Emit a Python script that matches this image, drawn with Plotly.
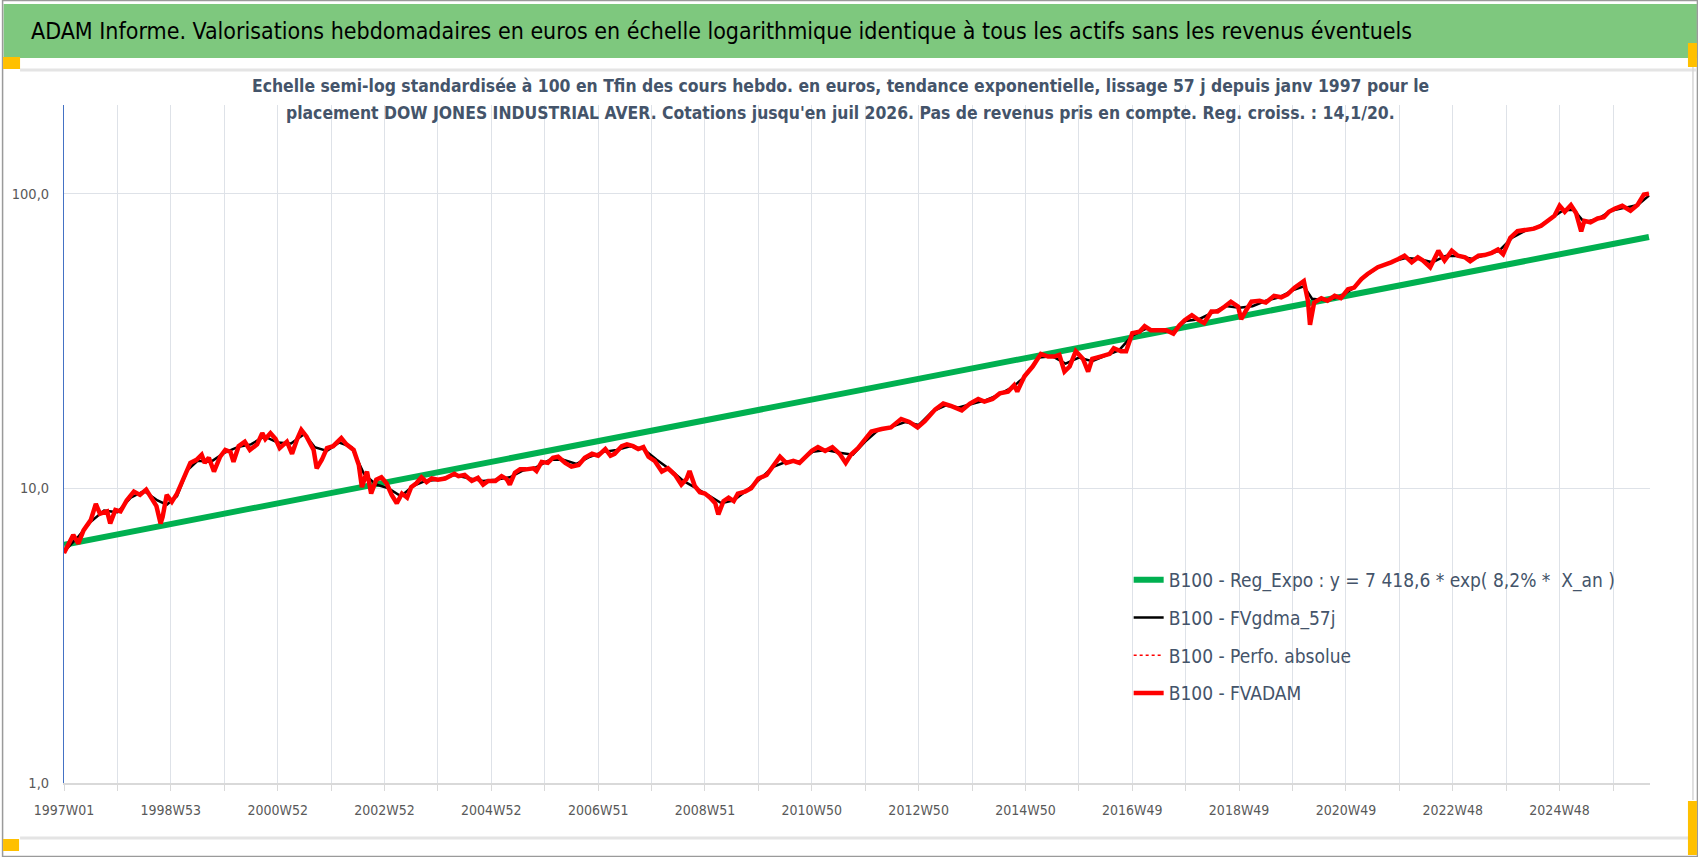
import plotly.graph_objects as go
import math

# ---------------- DATA ----------------
# x = week index counted from 1997W01 (week 0)
fvadam_weeks = [0, 9, 14, 19, 26, 31, 35, 42, 45, 50, 55, 61, 68, 74, 80, 86, 90, 94, 96, 100,
                105, 110, 116, 123, 129, 134, 137, 141, 146, 152, 157, 162, 165, 170, 176, 181, 188, 193, 196, 201,
                206, 210, 217, 222, 227, 231, 236, 243, 246, 251, 256, 262, 270, 275, 282, 287, 290, 295, 299, 304,
                309, 314, 319, 324, 329, 334, 338, 343, 348, 353, 358, 364, 371, 380, 384, 390, 397, 403, 408, 413,
                420, 426, 431, 434, 439, 444, 450, 457, 460, 465, 471, 476, 481, 488, 494, 501, 507, 514, 520, 527,
                532, 536, 543, 548, 554, 559, 564, 569, 575, 582, 588, 595, 601, 606, 609, 614, 619, 624, 629, 634,
                637, 642, 647, 652, 656, 663, 669, 676, 684, 690, 697, 703, 710, 716, 721, 728, 734, 741, 748, 755,
                761, 766, 773, 779, 786, 796, 805, 815, 823, 831, 838, 848, 856, 864, 874, 882, 890, 896, 904, 911,
                919, 925, 928, 935, 943, 951, 958, 964, 969, 974, 979, 985, 992, 997, 1001, 1009, 1018, 1022, 1029, 1034,
                1040, 1047, 1052, 1058, 1067, 1073, 1080, 1086, 1091, 1098, 1104, 1110, 1117, 1123, 1130, 1136, 1143, 1146, 1151, 1156,
                1164, 1170, 1178, 1185, 1191, 1198, 1207, 1211, 1213, 1217, 1224, 1230, 1237, 1243, 1250, 1256, 1263, 1269, 1279, 1286,
                1292, 1299, 1305, 1312, 1318, 1323, 1330, 1338, 1344, 1351, 1357, 1364, 1369, 1377, 1383, 1390, 1396, 1401, 1408, 1415,
                1423, 1431, 1438, 1444, 1451, 1456, 1461, 1467, 1472, 1477, 1480, 1486, 1493, 1499, 1504, 1510, 1517, 1525, 1532, 1538,
                1543]
fvadam_values = [6.03, 6.95, 6.5, 7.2, 7.8, 8.85, 8.2, 8.35, 7.6, 8.45, 8.35, 9.1, 9.75, 9.5, 9.9, 9.1, 8.7, 7.6, 8.0, 9.5,
                 9.0, 9.6, 10.7, 12.2, 12.5, 13.0, 12.2, 12.7, 11.4, 12.8, 13.5, 13.3, 12.3, 13.9, 14.4, 13.5, 14.1, 15.4, 14.7, 15.4,
                 14.7, 13.7, 14.4, 13.1, 14.7, 15.8, 15.0, 13.5, 11.7, 12.5, 13.7, 13.9, 14.8, 14.1, 13.5, 12.0, 10.1, 11.4, 9.6, 10.7,
                 10.9, 10.4, 9.5, 8.9, 9.6, 9.3, 10.1, 10.4, 10.9, 10.5, 10.8, 10.7, 10.8, 11.2, 11.0, 11.1, 10.6, 10.85, 10.3, 10.6,
                 10.6, 11.0, 10.75, 10.3, 11.3, 11.6, 11.6, 11.7, 11.45, 12.3, 12.2, 12.7, 12.8, 12.2, 11.85, 12.0, 12.7, 13.1, 12.9, 13.6,
                 12.9, 13.1, 13.9, 14.1, 13.9, 13.6, 13.8, 12.8, 12.4, 11.4, 11.7, 11.1, 10.3, 10.75, 11.45, 10.2, 9.7, 9.6, 9.3, 8.9,
                 8.15, 9.05, 9.3, 9.05, 9.6, 9.75, 10.0, 10.8, 11.1, 11.85, 12.8, 12.2, 12.4, 12.2, 12.7, 13.4, 13.8, 13.4, 13.8, 13.1,
                 12.2, 13.0, 13.7, 14.6, 15.6, 15.9, 16.1, 17.2, 16.8, 16.1, 16.9, 18.5, 19.4, 19.0, 18.4, 19.4, 20.1, 19.7, 20.1, 21.0,
                 21.3, 22.4, 21.3, 24.0, 25.9, 28.6, 28.0, 28.0, 28.4, 24.9, 25.9, 29.2, 27.5, 24.9, 27.5, 28.0, 28.6, 29.9, 29.2, 29.2,
                 33.6, 34.0, 35.5, 34.4, 34.3, 34.4, 33.5, 35.8, 37.2, 38.7, 37.4, 36.4, 39.8, 39.8, 41.4, 43.0, 41.4, 37.5, 40.3, 43.0,
                 43.3, 42.7, 45.0, 44.5, 45.5, 48.0, 50.5, 43.3, 35.9, 42.7, 44.2, 43.3, 45.0, 44.2, 47.4, 48.0, 51.3, 53.4, 56.3, 57.3,
                 58.5, 60.0, 61.6, 58.5, 60.8, 59.3, 56.3, 64.0, 59.3, 64.0, 61.6, 60.8, 59.0, 61.6, 61.9, 63.0, 64.7, 62.3, 70.8, 74.6,
                 75.6, 76.1, 77.8, 80.9, 84.1, 91.0, 86.8, 91.5, 86.0, 74.5, 80.9, 80.0, 82.4, 83.2, 86.8, 89.0, 91.0, 87.6, 91.8, 99.3,
                 100.0]

gdma_weeks = [0, 13, 26, 39, 52, 65, 78, 91, 100, 110, 120, 130, 143, 156, 169, 182, 195, 208, 221, 234,
              244, 256, 268, 280, 292, 304, 316, 328, 340, 352, 364, 380, 395, 408, 420, 434, 447, 460, 473, 486,
              499, 512, 525, 538, 551, 564, 577, 590, 603, 616, 629, 640, 652, 664, 677, 690, 703, 716, 729, 742,
              755, 768, 780, 793, 806, 819, 832, 845, 858, 871, 884, 897, 910, 923, 936, 949, 962, 975, 988, 1001,
              1014, 1027, 1040, 1053, 1066, 1079, 1092, 1105, 1118, 1131, 1144, 1157, 1170, 1183, 1196, 1207, 1215, 1228, 1241, 1254,
              1267, 1280, 1293, 1306, 1319, 1332, 1345, 1358, 1371, 1384, 1397, 1410, 1423, 1436, 1449, 1460, 1470, 1480, 1493, 1506,
              1519, 1532, 1543]
gdma_values = [6.1, 6.8, 7.7, 8.4, 8.3, 9.3, 9.8, 9.1, 8.8, 9.4, 11.5, 12.4, 12.3, 13.2, 13.8, 14.1, 15.0, 14.3, 14.2, 15.3,
               13.8, 13.4, 14.3, 13.8, 11.2, 10.3, 10.0, 9.4, 10.2, 10.6, 10.7, 11.1, 10.8, 10.6, 10.7, 10.9, 11.5, 11.8, 12.5, 12.5,
               12.1, 12.8, 13.3, 13.5, 13.9, 13.6, 12.5, 11.6, 10.6, 10.0, 9.4, 8.9, 9.1, 9.8, 10.7, 11.8, 12.3, 12.3, 13.3, 13.5,
               13.2, 13.0, 14.4, 15.8, 16.2, 16.8, 16.4, 18.2, 19.1, 18.8, 19.4, 19.9, 20.8, 22.0, 24.0, 27.8, 28.1, 26.5, 27.8, 27.0,
               28.2, 29.4, 33.0, 34.8, 34.4, 33.8, 37.0, 37.5, 39.5, 41.6, 41.0, 41.5, 43.3, 44.5, 47.0, 48.5, 44.0, 43.5, 44.5, 47.5,
               52.5, 56.5, 58.8, 60.5, 60.0, 58.5, 61.5, 61.5, 60.0, 62.0, 64.0, 71.0, 75.0, 77.5, 83.0, 88.0, 88.0, 80.0, 82.0, 87.5,
               89.5, 91.5, 98.5]

reg_weeks = [0, 1543]
reg_values = [6.43, 71.3]

tick_weeks = [0, 104, 208, 312, 416, 520, 624, 728, 832, 936, 1040, 1144, 1248, 1352, 1456]
tick_labels = ["1997W01", "1998W53", "2000W52", "2002W52", "2004W52", "2006W51", "2008W51", "2010W50",
               "2012W50", "2014W50", "2016W49", "2018W49", "2020W49", "2022W48", "2024W48"]
grid_weeks = [52 * k for k in range(30)]

y_tick_vals = [1, 10, 100]
y_tick_text = ["1,0", "10,0", "100,0"]

series_names = ["B100 - Reg_Expo : y = 7 418,6 * exp( 8,2% *\u00a0 X_an )",
                "B100 - FVgdma_57j",
                "B100 - Perfo. absolue",
                "B100 - FVADAM"]

title_text = ("ADAM Informe. Valorisations hebdomadaires en euros en échelle logarithmique "
              "identique à tous les actifs sans les revenus éventuels")
subtitle_1 = ("Echelle semi-log standardisée à 100 en Tfin des cours hebdo. en euros, tendance "
              "exponentielle, lissage 57 j depuis janv 1997 pour le")
subtitle_2 = ("placement DOW JONES INDUSTRIAL AVER. Cotations jusqu'en juil 2026. Pas de revenus "
              "pris en compte. Reg. croiss. : 14,1/20.")

# ---------------- LAYOUT GEOMETRY ----------------
W, H = 1698, 857
L, R, T, B = 62, 1650, 105, 783
FONT = "DejaVu Sans Condensed, DejaVu Sans, sans-serif"


def px_x(px):
    return (px - L) / (R - L)


def px_y(py):
    return (B - py) / (B - T)


fig = go.Figure()
fig.add_trace(go.Scatter(x=reg_weeks, y=reg_values, mode="lines", name=series_names[0],
                         line=dict(color="#00B050", width=6), legendgroup="a"))
fig.add_trace(go.Scatter(x=gdma_weeks, y=gdma_values, mode="lines", name=series_names[1],
                         line=dict(color="#000000", width=2.5), legendgroup="b"))
fig.add_trace(go.Scatter(x=fvadam_weeks, y=fvadam_values, mode="lines", name=series_names[2],
                         line=dict(color="#FF0000", width=1.5, dash="dot"), legendgroup="c"))
fig.add_trace(go.Scatter(x=fvadam_weeks, y=fvadam_values, mode="lines", name=series_names[3],
                         line=dict(color="#FF0000", width=4.5), legendgroup="d"))

ticktext_full = []
for g in grid_weeks:
    ticktext_full.append(tick_labels[tick_weeks.index(g)] if g in tick_weeks else "")

fig.update_layout(
    width=W, height=H, autosize=False,
    margin=dict(l=L, r=W - R, t=T, b=H - B, pad=0),
    paper_bgcolor="white", plot_bgcolor="white",
    font=dict(family=FONT, color="#595959"),
    showlegend=True,
    legend=dict(x=px_x(1128), y=px_y(561), xanchor="left", yanchor="top",
                font=dict(family=FONT, size=19, color="#44546A"),
                bgcolor="rgba(0,0,0,0)", tracegroupgap=10, traceorder="grouped"),
    xaxis=dict(range=[0, 1544], tickmode="array", tickvals=grid_weeks, ticktext=ticktext_full,
               showgrid=True, gridcolor="#DEE2E8", gridwidth=1, zeroline=False,
               showline=True, linecolor="#D9D9D9", linewidth=2,
               ticks="outside", ticklen=6, tickcolor="#D9D9D9", tickwidth=1,
               tickfont=dict(family=FONT, size=14, color="#595959"), ticklabelstandoff=7),
    yaxis=dict(type="log", range=[0, math.log10(200)], tickmode="array",
               tickvals=y_tick_vals, ticktext=y_tick_text,
               showgrid=True, gridcolor="#DEE2E8", gridwidth=1, zeroline=False,
               showline=True, linecolor="#4472C4", linewidth=1, ticks="",
               tickfont=dict(family=FONT, size=14.5, color="#595959"), ticklabelstandoff=11),
)

shapes = []
# outer border
shapes.append(dict(type="rect", xref="paper", yref="paper",
                   x0=px_x(0.5), x1=px_x(W - 0.5), y0=px_y(H - 0.5), y1=px_y(0.5),
                   line=dict(color="#9A9A9A", width=1.5), fillcolor="rgba(0,0,0,0)", layer="above"))
# green title band
shapes.append(dict(type="rect", xref="paper", yref="paper",
                   x0=px_x(1.5), x1=px_x(W - 1), y0=px_y(58), y1=px_y(4),
                   line=dict(width=0), fillcolor="#7EC87E", layer="below"))
# light separator lines
shapes.append(dict(type="line", xref="paper", yref="paper",
                   x0=px_x(18), x1=px_x(W - 2), y0=px_y(70), y1=px_y(70),
                   line=dict(color="#E4E4E4", width=3)))
shapes.append(dict(type="line", xref="paper", yref="paper",
                   x0=px_x(18), x1=px_x(W - 8), y0=px_y(838), y1=px_y(838),
                   line=dict(color="#E4E4E4", width=3)))
shapes.append(dict(type="line", xref="paper", yref="paper",
                   x0=px_x(1693), x1=px_x(1693), y0=px_y(62), y1=px_y(800),
                   line=dict(color="#D6D6D6", width=1.5)))
# orange corner marks
for (a, b, c, d) in [(1, 57, 18, 69), (1, 839, 17, 851), (1688, 43, 1697, 67), (1688, 801, 1697, 855)]:
    shapes.append(dict(type="rect", xref="paper", yref="paper",
                       x0=px_x(a), x1=px_x(c), y0=px_y(d), y1=px_y(b),
                       line=dict(width=0), fillcolor="#FFC000", layer="above"))
fig.update_layout(shapes=shapes)

annotations = [
    dict(text=title_text, xref="paper", yref="paper", x=px_x(27), y=px_y(31),
         xanchor="left", yanchor="middle", showarrow=False,
         font=dict(family=FONT, size=23, color="#000000")),
    dict(text=subtitle_1, xref="paper", yref="paper", x=px_x(839), y=px_y(86),
         xanchor="center", yanchor="middle", showarrow=False,
         font=dict(family=FONT, size=17.4, color="#44546A", weight="bold")),
    dict(text=subtitle_2, xref="paper", yref="paper", x=px_x(839), y=px_y(113),
         xanchor="center", yanchor="middle", showarrow=False,
         font=dict(family=FONT, size=17.4, color="#44546A", weight="bold")),
]
fig.update_layout(annotations=annotations)

fig.write_html("out.html", config={"displayModeBar": False},
               post_script="document.body.style.margin='0';document.body.style.overflow='hidden';")
